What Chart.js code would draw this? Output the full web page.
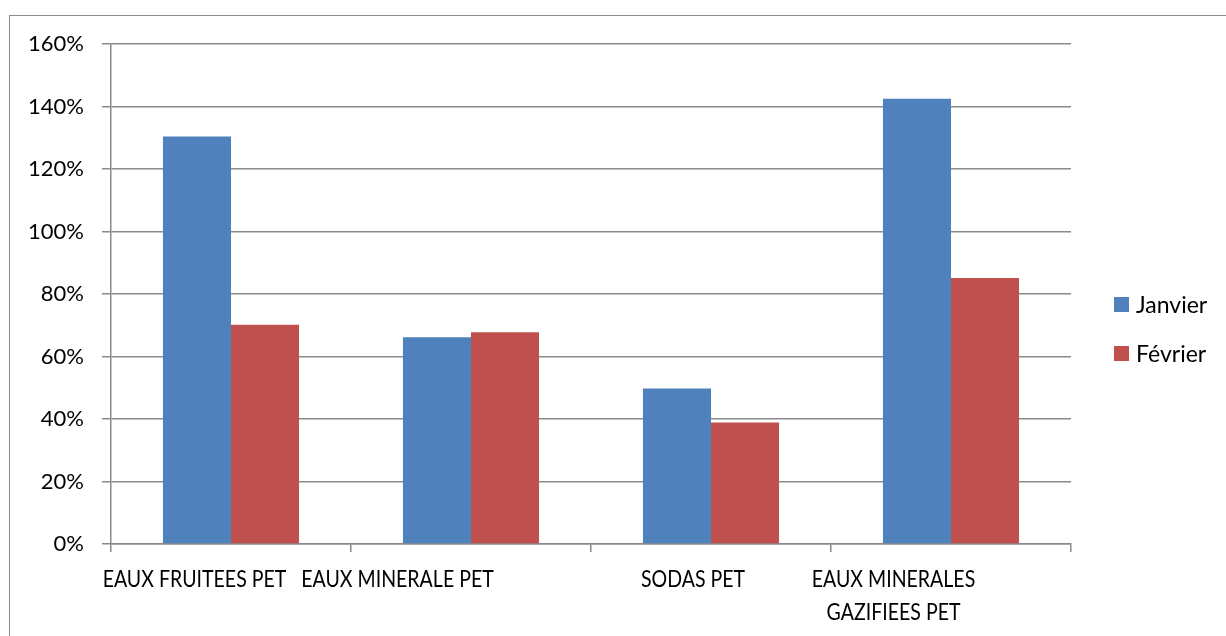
<!DOCTYPE html>
<html lang="fr">

<head>
    <meta charset="UTF-8">
    <title>Janvier / Février</title>
    <script src="https://cdn.jsdelivr.net/npm/chart.js"></script>
    <style>
        body {
            margin: 0;
            background: #fff;
            font-family: Lato, sans-serif;
        }

        #cadre {
            position: absolute;
            left: 9px;
            top: 15px;
            width: 1300px;
            height: 700px;
            border: 1px solid #8c8c8c;
            pointer-events: none;
        }

        canvas {
            position: absolute;
            left: 0;
            top: 0;
        }
    </style>
</head>

<body>
    <canvas id="grafico" width="1226" height="636"></canvas>
    <div id="cadre"></div>

    <script>
        // données (en %)
        const categories = ['EAUX FRUITEES PET', 'EAUX MINERALE PET', 'SODAS PET', ['EAUX MINERALES', 'GAZIFIEES PET']];
        const janvier = [130.4, 66.2, 49.8, 142.5];
        const fevrier = [70.2, 67.8, 38.9, 85.1];
        const yTicks = [0, 20, 40, 60, 80, 100, 120, 140, 160];

        // décalage horizontal des étiquettes (comme dans l'original)
        const labelShift = [-36.5, -73.5, -18, -57.5];

        const etiquettesX = {
            id: 'etiquettesX',
            afterDraw(chart) {
                const ctx = chart.ctx;
                const xs = chart.scales.x;
                const area = chart.chartArea;
                ctx.save();
                ctx.fillStyle = '#000';
                ctx.font = '23px Lato';
                ctx.textAlign = 'center';
                ctx.textBaseline = 'alphabetic';
                categories.forEach((lab, i) => {
                    const lignes = Array.isArray(lab) ? lab : [lab];
                    const x = xs.getPixelForValue(i) + labelShift[i];
                    lignes.forEach((ligne, j) => {
                        ctx.save();
                        ctx.translate(x, area.bottom + 43 + j * 33);
                        ctx.scale(0.85, 1);
                        ctx.fillText(ligne, 0, 0);
                        ctx.restore();
                    });
                });

                // légende
                ctx.font = '23px Lato';
                ctx.textAlign = 'left';
                chart.data.datasets.forEach((ds, i) => {
                    const y = 297 + i * 49;
                    ctx.fillStyle = ds.backgroundColor;
                    ctx.fillRect(area.right + 43, y, 15, 15);
                    ctx.fillStyle = '#000';
                    ctx.fillText(ds.label, area.right + 65, y + 16);
                });
                ctx.restore();
            }
        };

        const ctx = document.getElementById('grafico').getContext('2d');
        const myChart = new Chart(ctx, {
            type: 'bar',
            data: {
                labels: categories,
                datasets: [{
                    label: 'Janvier',
                    data: janvier,
                    backgroundColor: '#4F81BD',
                    borderWidth: 0
                }, {
                    label: 'Février',
                    data: fevrier,
                    backgroundColor: '#C0504D',
                    borderWidth: 0
                }]
            },
            options: {
                responsive: false,
                animation: false,
                layout: {
                    padding: { top: 44, right: 155, bottom: 0, left: 0 }
                },
                plugins: {
                    legend: { display: false },
                    tooltip: { enabled: false }
                },
                datasets: {
                    bar: { categoryPercentage: 0.567, barPercentage: 1.0 }
                },
                scales: {
                    x: {
                        offset: true,
                        afterFit: s => { s.height = 92; },
                        ticks: { display: false },
                        grid: {
                            offset: true,
                            drawOnChartArea: false,
                            drawTicks: true,
                            tickLength: 8,
                            color: '#8a8a8a',
                            lineWidth: 1.5
                        },
                        border: { color: '#8a8a8a', width: 1.5 }
                    },
                    y: {
                        min: 0,
                        max: 160,
                        afterFit: s => { s.width = 111; },
                        afterBuildTicks: s => { s.ticks = yTicks.map(v => ({ value: v })); },
                        ticks: {
                            padding: 18,
                            color: '#000',
                            font: { family: 'Lato', size: 22 },
                            callback: v => v + '%'
                        },
                        grid: {
                            color: '#8a8a8a',
                            lineWidth: 1.5,
                            tickLength: 9
                        },
                        border: { color: '#8a8a8a', width: 1.5 }
                    }
                }
            },
            plugins: [etiquettesX]
        });
    </script>

</body>

</html>
